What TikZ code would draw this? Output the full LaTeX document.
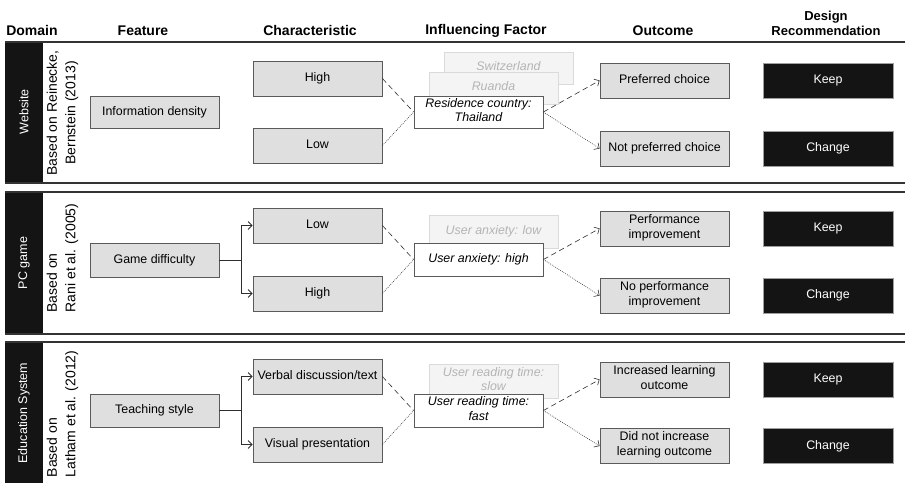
\documentclass[tikz,border=0pt]{standalone}
\usepackage{fontspec}
\setmainfont{Liberation Sans}
\usetikzlibrary{arrows.meta}

\definecolor{boxfill}{HTML}{DFDFDF}
\definecolor{boxline}{HTML}{5A5A5A}
\definecolor{barblack}{HTML}{141414}
\definecolor{rule}{HTML}{333333}
\definecolor{ghostfill}{HTML}{F4F4F4}
\definecolor{ghostline}{HTML}{DADADA}
\definecolor{ghosttext}{HTML}{B4B4B4}
\definecolor{wire}{HTML}{2E2E2E}

\tikzset{
  bodyfont/.style={font=\fontsize{12.4}{15}\selectfont},
  headfont/.style={font=\fontsize{14}{15.5}\selectfont\bfseries},
  basebox/.style={minimum width=129pt, minimum height=34pt, inner sep=1pt,
    align=center, line width=0.8pt, bodyfont,
    execute at begin node=\strut, execute at end node=\strut},
  featbox/.style={basebox, fill=boxfill, draw=boxline},
  factbox/.style={basebox, fill=white, draw=boxline,
    font=\fontsize{12.4}{14.5}\selectfont\itshape},
  ghostbox/.style={basebox, minimum height=32pt, fill=ghostfill, draw=ghostline,
    text=ghosttext, font=\fontsize{12.4}{14.5}\selectfont\itshape},
  recbox/.style={basebox, minimum width=130pt, fill=barblack, draw=gray!75, text=white},
  domainlabel/.style={rotate=90, text=white, font=\fontsize{12.5}{15}\selectfont},
  sourcelabel/.style={rotate=90, font=\fontsize{14}{18.5}\selectfont, inner sep=0pt},
  panelrule/.style={draw=rule, line width=1.8pt},
  wirearrow/.style={draw=wire, line width=0.6pt,
    -{Straight Barb[length=4pt,width=8pt,line width=0.6pt]}},
  dashwire/.style={draw=wire, line width=0.6pt, dash pattern=on 5.5pt off 3.5pt},
  dotwire/.style={draw=wire, line width=0.6pt, dash pattern=on 0.8pt off 1.2pt},
  elbow/.style={draw=wire, line width=0.8pt,
    -{Straight Barb[length=4pt,width=8pt,line width=0.8pt]}},
}

\begin{document}
\begin{tikzpicture}[x=1pt, y=-1pt]
\useasboundingbox (0,0) rectangle (905,483);

% column headings
\node[headfont] (hDomain) at (32,30.5) {Domain};
\node[headfont] (hFeature) at (143,30.5) {Feature};
\node[headfont] (hChar) at (310,30.5) {Characteristic};
\node[headfont] (hFactor) at (486,30.5) {Influencing Factor};
\node[headfont] (hOutcome) at (663,30.5) {Outcome};
\node[headfont, font=\fontsize{13}{15.5}\selectfont\bfseries, align=center] (hRec) at (826,23.5) {Design\\Recommendation};

% panel frames: black domain bars and horizontal rules
\fill[barblack] (5,41.7) rectangle (43,183);
\fill[barblack] (5,192) rectangle (43,334);
\fill[barblack] (5,342) rectangle (43,483);
\draw[panelrule] (5,41.7) -- (905,41.7);
\draw[panelrule] (5,183) -- (905,183);
\draw[panelrule] (5,192) -- (905,192);
\draw[panelrule] (5,334) -- (905,334);
\draw[panelrule] (5,342) -- (905,342);

% ---------- Website ----------
\node[domainlabel] (d1) at (24,112) {Website};
\node[sourcelabel, align=center] (s1) at (62.5,113) {Based on Reinecke,\\Bernstein (2013)};
\node[featbox, minimum height=32pt] (feat1) at (154.5,112) {Information density};
\node[featbox, minimum height=35pt] (c1a) at (317.5,78.5) {High};
\node[featbox, minimum height=35pt] (c1b) at (317.5,145.5) {Low};
\node[ghostbox] (g1a) at (508.5,68) {Switzerland};
\node[ghostbox] (g1b) at (493.5,88) {Ruanda};
\node[factbox, minimum height=32pt] (f1) at (478.5,112) {Residence country:\\Thailand};
\node[featbox, minimum height=35pt] (o1a) at (664.5,80.5) {Preferred choice};
\node[featbox, minimum height=35pt] (o1b) at (664.5,148.5) {Not preferred choice};
\node[recbox, minimum height=35pt] (r1a) at (828,80.5) {Keep};
\node[recbox, minimum height=35pt] (r1b) at (828,148.5) {Change};
\draw[dashwire] (c1a.east) -- (f1.west);
\draw[dotwire] (c1b.east) -- (f1.west);
\draw[dashwire, wirearrow] (f1.east) -- (o1a.west);
\draw[dotwire, wirearrow] (f1.east) -- (o1b.west);

% ---------- PC game ----------
\node[domainlabel] (d2) at (24,263) {PC game};
\node[sourcelabel, align=left] (s2) at (62.5,258) {Based on\\Rani et al. (2005)};
\node[featbox] (feat2) at (154.5,260) {Game difficulty};
\node[featbox, minimum height=35pt] (c2a) at (317.5,225.5) {Low};
\node[featbox, minimum height=35pt] (c2b) at (317.5,293.5) {High};
\node[ghostbox, minimum height=33pt] (g2) at (493.5,231.5) {User anxiety: low};
\node[factbox, minimum height=33pt] (f2) at (478.5,259.5) {User anxiety: high};
\node[featbox, minimum height=35pt] (o2a) at (664.5,228.5) {Performance\\improvement};
\node[featbox, minimum height=35pt] (o2b) at (664.5,295.5) {No performance\\improvement};
\node[recbox, minimum height=35pt] (r2a) at (828,228.5) {Keep};
\node[recbox, minimum height=35pt] (r2b) at (828,295.5) {Change};
\draw[elbow] (feat2.east) -- ++(21.5,0) |- (c2a.west);
\draw[elbow] (feat2.east) -- ++(21.5,0) |- (c2b.west);
\draw[dashwire] (c2a.east) -- (f2.west);
\draw[dotwire] (c2b.east) -- (f2.west);
\draw[dashwire, wirearrow] (f2.east) -- (o2a.west);
\draw[dotwire, wirearrow] (f2.east) -- (o2b.west);

% ---------- Education System ----------
\node[domainlabel] (d3) at (24,413) {Education System};
\node[sourcelabel, align=left] (s3) at (62.5,414) {Based on\\Latham et al. (2012)};
\node[featbox, minimum height=33pt] (feat3) at (154.5,410.5) {Teaching style};
\node[featbox, minimum height=35pt] (c3a) at (317.5,376.5) {Verbal discussion/text};
\node[featbox, minimum height=35pt] (c3b) at (317.5,444.5) {Visual presentation};
\node[ghostbox, minimum height=34pt] (g3) at (493.5,381) {User reading time:\\slow};
\node[factbox, minimum height=33pt] (f3) at (478.5,410.5) {User reading time:\\fast};
\node[featbox, minimum height=35pt] (o3a) at (664.5,379.5) {Increased learning\\outcome};
\node[featbox, minimum height=35pt] (o3b) at (664.5,446) {Did not increase\\learning outcome};
\node[recbox, minimum height=35pt] (r3a) at (828,379.5) {Keep};
\node[recbox, minimum height=35pt] (r3b) at (828,446) {Change};
\draw[elbow] (feat3.east) -- ++(21.5,0) |- (c3a.west);
\draw[elbow] (feat3.east) -- ++(21.5,0) |- (c3b.west);
\draw[dashwire] (c3a.east) -- (f3.west);
\draw[dotwire] (c3b.east) -- (f3.west);
\draw[dashwire, wirearrow] (f3.east) -- (o3a.west);
\draw[dotwire, wirearrow] (f3.east) -- (o3b.west);

\end{tikzpicture}
\end{document}
